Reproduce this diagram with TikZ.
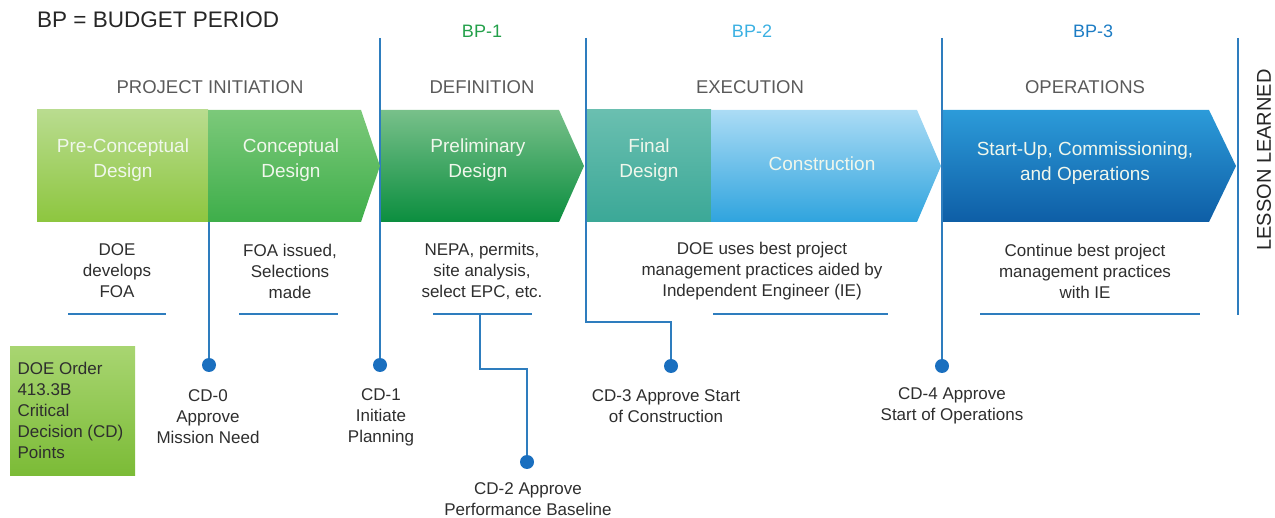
\documentclass[tikz,border=0pt]{standalone}
\usepackage{fontspec}
\setmainfont{Liberation Sans}
\usepackage{tikz}
\usetikzlibrary{calc}
\definecolor{lineblue}{HTML}{2E7DBE}
\definecolor{dotblue}{HTML}{1A6FBF}
\definecolor{headgray}{HTML}{5A5A5A}
\definecolor{notegray}{HTML}{2E2E2E}
\definecolor{bandtext}{HTML}{F0F7EC}
\definecolor{bpgreen}{HTML}{23A04A}
\definecolor{bplight}{HTML}{3AB0E2}
\definecolor{bpblue}{HTML}{1C7CC4}
\tikzset{
  phase/.style={font=\fontsize{18.5}{22}\selectfont, text=headgray},
  bandlabel/.style={font=\fontsize{19}{25}\selectfont, text=bandtext, align=center},
  note/.style={font=\fontsize{17}{21}\selectfont, text=notegray, align=center},
  bplabel/.style={font=\fontsize{18}{22}\selectfont},
  cdline/.style={lineblue, line width=1.8pt},
  cddot/.style={circle, fill=dotblue, inner sep=0pt, minimum size=14pt}
}

\begin{document}
\begin{tikzpicture}[x=1pt,y=-1pt]
        \useasboundingbox (0,0) rectangle (1275,518);
        \node[anchor=west, inner sep=0pt, font=\fontsize{22.5}{27}\selectfont, text=black!85] (title) at (37,20) {BP = BUDGET PERIOD};
        \node[bplabel, text=bpgreen] (bp1) at (482,31) {BP-1};
        \node[bplabel, text=bplight] (bp2) at (752,31) {BP-2};
        \node[bplabel, text=bpblue] (bp3) at (1093,31) {BP-3};

        \coordinate (top1) at (380,38);
        \coordinate (top2) at (586,38);
        \coordinate (top3) at (942,38);
        \coordinate (top4) at (1238,38);
        \coordinate (bot4) at (1238,315);
        \coordinate (c0) at (209,222);
        \coordinate (k2) at (480,369);
        \coordinate (k3) at (586,322);
        \coordinate (u3) at (480,314);

        \node[cddot] (cd0) at (209,365) {};
        \node[cddot] (cd1) at (380,365) {};
        \node[cddot] (cd2) at (527,462) {};
        \node[cddot] (cd3) at (671,366) {};
        \node[cddot] (cd4) at (942,366) {};

        \draw[cdline] (top1) -- (cd1);
        \draw[cdline] (top2) -- (k3) -| (cd3);
        \draw[cdline] (top3) -- (cd4);
        \draw[cdline] (top4) -- (bot4);
        \draw[cdline] (c0) -- (cd0);
        \draw[cdline] (u3) -- (k2) -| (cd2);
        \foreach \a/\b in {68/166,239/338,433/532,713/888,980/1200}
        \draw[cdline] (\a,314) -- (\b,314);

        \shade[top color={rgb,255:red,185;green,220;blue,143}, bottom color={rgb,255:red,141;green,198;blue,63}] (37,110) rectangle (208,222);
        \shade[top color={rgb,255:red,124;green,201;blue,122}, bottom color={rgb,255:red,62;green,174;blue,74}] (208,110) -- (361,110) -- (380,166) -- (361,222) -- (208,222) -- cycle;
        \shade[top color={rgb,255:red,120;green,192;blue,138}, bottom color={rgb,255:red,11;green,142;blue,63}] (381,110) -- (559,110) -- (584,166) -- (559,222) -- (381,222) -- cycle;
        \shade[top color={rgb,255:red,106;green,191;blue,176}, bottom color={rgb,255:red,59;green,168;blue,151}] (587,110) rectangle (711,222);
        \shade[top color={rgb,255:red,171;green,220;blue,245}, bottom color={rgb,255:red,47;green,164;blue,222}] (711,110) -- (917,110) -- (941,166) -- (917,222) -- (711,222) -- cycle;
        \shade[top color={rgb,255:red,44;green,155;blue,217}, bottom color={rgb,255:red,14;green,94;blue,166}] (943,110) -- (1209,110) -- (1236,166) -- (1209,222) -- (943,222) -- cycle;

        \node[phase] (init) at (210,87) {PROJECT INITIATION};
        \node[phase] (defn) at (482,87) {DEFINITION};
        \node[phase] (exec) at (750,87) {EXECUTION};
        \node[phase] (oper) at (1085,87) {OPERATIONS};

        \node[bandlabel] (precon) at (123,160) {Pre-Conceptual\\Design};
        \node[bandlabel] (concep) at (291,160) {Conceptual\\Design};
        \node[bandlabel] (prelim) at (478,160) {Preliminary\\Design};
        \node[bandlabel] (final) at (649,160) {Final\\Design};
        \node[bandlabel] (constr) at (822,164) {Construction};
        \node[bandlabel] (startup) at (1085,163) {Start-Up, Commissioning,\\and Operations};

        \node[note] (n0) at (117,271) {DOE\\develops\\FOA};
        \node[note] (n1) at (290,271) {FOA issued,\\Selections\\made};
        \node[note] (n2) at (482,271) {NEPA, permits,\\site analysis,\\select EPC, etc.};
        \node[note] (n3) at (762,271) {DOE uses best project\\management practices aided by\\Independent Engineer (IE)};
        \node[note] (n4) at (1085,271) {Continue best project\\management practices\\with IE};

        \node[note] (l0) at (208,417) {CD-0\\Approve\\Mission Need};
        \node[note] (l1) at (381,417) {CD-1\\Initiate\\Planning};
        \node[note, inner ysep=0pt] (l2) at (528,499) {CD-2 Approve\\Performance Baseline};
        \node[note] (l3) at (666,406) {CD-3 Approve Start\\of Construction};
        \node[note] (l4) at (952,406) {CD-4 Approve\\Start of Operations};

        \shade[top color={rgb,255:red,168;green,213;blue,113}, bottom color={rgb,255:red,123;green,187;blue,54}] (10,347) rectangle (135,476);
        \node[note, align=left, anchor=west] (order) at (14,410) {DOE Order\\413.3B\\Critical\\Decision (CD)\\Points};

        \node[rotate=90, font=\fontsize{20}{24}\selectfont, text=black!85] (lesson) at (1264,160) {LESSON LEARNED};
    \end{tikzpicture}
\end{document}
